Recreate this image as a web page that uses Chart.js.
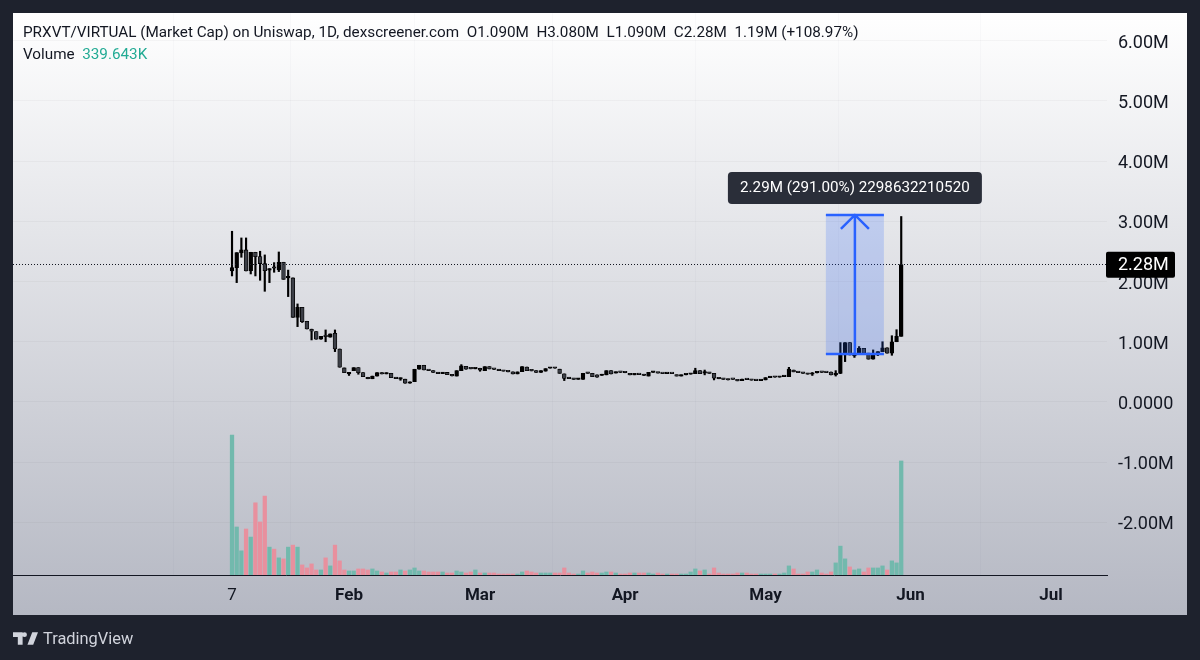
<!DOCTYPE html>
<html>
<head>
<meta charset="utf-8">
<title>PRXVT/VIRTUAL</title>
<script src="https://cdn.jsdelivr.net/npm/chart.js@4"></script>
<style>
  html, body { margin: 0; padding: 0; background: #1e222d; }
  #wrap { position: relative; width: 1200px; height: 660px; overflow: hidden; font-family: Roboto, sans-serif; }
  canvas { position: absolute; left: 0; top: 0; }
  .line { position: absolute; left: 23px; font-size: 15.25px; color: #131722; white-space: pre; }
  .green { color: #22ab94; }
  #brand { position: absolute; left: 13px; top: 629px; display: flex; align-items: center; color: #d1d4dc; font-size: 16.4px; }
  #brand svg { margin-right: 5px; }
</style>
</head>
<body>
<div id="wrap">
  <canvas id="myChart" width="1200" height="660"></canvas>
  <div class="line" style="top:23px">PRXVT/VIRTUAL (Market Cap) on Uniswap, 1D, dexscreener.com  O1.090M  H3.080M  L1.090M  C2.28M  1.19M (+108.97%)</div>
  <div class="line" style="top:45px">Volume  <span class="green">339.643K</span></div>
  <div id="brand">
    <svg width="25" height="13" viewBox="0 0 26 13"><path fill="#d1d4dc" d="M0 0h10v13H5V5H0zM12 0a2.5 2.5 0 1 1 0 5 2.500 2.500 0 0 1 0-5zM20 0h6l-5 13h-6z"/></svg>
    <span>TradingView</span>
  </div>
</div>
<script>
// day index 0 = Jan 7, values in millions
var opens = [
  2.176,2.231,2.475,2.525,2.181,2.486,2.414,2.298,2.19,2.225,
  2.192,2.32,2.06,2.06,1.406,1.572,1.34,1.207,1.168,1.041,
  1.09,1.075,1.14,.88,.565,.465,.52,.57,.487,.41,
  .385,.43,.487,.465,.476,.404,.38,.378,.31,.338,
  .543,.609,.53,.52,.49,.47,.49,.454,.43,.52,
  .592,.56,.55,.56,.52,.587,.55,.54,.52,.51,
  .50,.465,.505,.58,.53,.52,.49,.51,.56,.57,
  .544,.466,.405,.39,.375,.375,.49,.476,.45,.44,
  .45,.52,.48,.50,.49,.47,.45,.46,.46,.43,
  .49,.49,.475,.47,.475,.45,.43,.45,.46,.47,
  .52,.48,.49,.475,.40,.39,.38,.38,.365,.355,
  .38,.37,.365,.355,.366,.405,.42,.41,.42,.42,
  .53,.50,.488,.476,.46,.482,.50,.49,.498,.45,
  .476,.78,.986,.765,.81,.89,.81,.71,.78,.836,
  .90,.81,1.0,1.09
]
var closes = [
  2.231,2.48,2.525,2.176,2.486,2.414,2.298,2.181,2.215,2.22,
  2.32,2.037,2.065,1.406,1.572,1.334,1.212,1.174,1.041,1.09,
  1.085,1.13,.88,.576,.487,.49,.57,.487,.42,.385,
  .43,.487,.465,.487,.404,.387,.40,.31,.335,.543,
  .609,.532,.52,.49,.47,.49,.454,.432,.52,.598,
  .543,.55,.56,.53,.587,.548,.54,.52,.51,.50,
  .465,.50,.587,.52,.515,.49,.52,.554,.57,.56,
  .476,.39,.388,.375,.39,.476,.475,.42,.41,.46,
  .52,.465,.50,.49,.485,.45,.47,.455,.44,.49,
  .50,.48,.47,.475,.47,.43,.45,.46,.47,.52,
  .47,.50,.475,.394,.385,.375,.365,.375,.35,.38,
  .37,.36,.355,.366,.405,.42,.41,.42,.43,.545,
  .50,.488,.476,.46,.48,.504,.49,.486,.449,.46,
  .792,.986,.78,.81,.89,.81,.71,.78,.836,.90,
  .81,1.0,1.09,2.28
]
var highs = [
  2.835,2.48,2.724,2.724,2.486,2.486,2.503,2.442,2.215,2.314,
  2.491,2.32,2.19,2.06,1.628,1.572,1.34,1.21,1.168,1.09,
  1.196,1.13,1.196,.88,.565,.49,.57,.57,.487,.41,
  .43,.487,.487,.487,.476,.404,.40,.378,.335,.543,
  .609,.609,.53,.52,.49,.49,.49,.454,.52,.62,
  .592,.56,.56,.56,.587,.587,.55,.54,.52,.51,
  .50,.50,.587,.58,.53,.52,.52,.554,.57,.57,
  .544,.466,.405,.39,.39,.476,.49,.476,.45,.46,
  .52,.52,.50,.50,.49,.47,.47,.46,.46,.49,
  .50,.49,.475,.475,.475,.45,.45,.46,.47,.56,
  .52,.53,.49,.475,.40,.39,.38,.38,.365,.38,
  .38,.37,.365,.366,.405,.42,.42,.42,.43,.575,
  .53,.50,.488,.476,.49,.504,.50,.49,.498,.52,
  .986,.986,.986,.81,.92,.89,.81,.864,.836,1.0,
  .90,1.1,1.2,3.08
]
var lows = [
  2.093,1.982,2.403,2.176,2.126,2.093,2.021,1.838,1.982,2.154,
  2.165,2.037,1.75,1.406,1.251,1.32,1.212,1.03,1.041,1.041,
  1.0,1.075,.836,.576,.487,.44,.52,.46,.42,.385,
  .385,.43,.465,.465,.404,.387,.36,.31,.31,.338,
  .543,.532,.52,.49,.47,.47,.454,.432,.43,.52,
  .543,.55,.55,.51,.52,.548,.54,.52,.51,.50,
  .465,.465,.505,.52,.515,.49,.49,.51,.56,.56,
  .476,.355,.388,.375,.375,.375,.475,.42,.41,.44,
  .45,.465,.48,.49,.485,.45,.45,.455,.44,.43,
  .49,.48,.47,.47,.47,.43,.43,.45,.46,.47,
  .47,.45,.475,.366,.385,.375,.365,.375,.35,.355,
  .37,.36,.355,.355,.366,.405,.41,.41,.42,.42,
  .50,.488,.476,.46,.44,.482,.49,.486,.449,.43,
  .47,.67,.78,.74,.81,.81,.71,.71,.77,.836,
  .81,.775,1.0,1.09
]
// thousands
var volumes = [
  417,143,72,137,113,215,158,235,83,77,
  51,48,83,89,83,30,21,33,15,15,
  51,27,89,42,15,12,12,18,18,15,
  18,12,9,6,9,9,15,12,15,21,
  12,12,9,9,9,9,6,6,12,9,
  6,9,15,6,6,6,6,3,3,3,
  3,3,9,12,9,6,6,6,6,6,
  6,21,6,3,3,12,6,9,6,6,
  9,9,6,3,3,6,6,6,6,6,
  3,6,3,3,3,3,3,3,9,18,
  12,15,3,21,6,3,3,3,6,6,
  6,3,3,3,3,3,3,3,6,27,
  18,3,3,9,9,15,6,3,9,36,
  86,48,24,15,18,9,21,21,21,27,
  15,42,36,339.643
]
var yTickValues = [6,5,4,3,2,1,0,-1,-2]
var yTickLabels = ['6.00M','5.00M','4.00M','3.00M','2.00M','1.00M','0.0000','-1.00M','-2.00M']
var xTickValues = [0,25,53,84,114,145,175]
var xTickLabels = ['7','Feb','Mar','Apr','May','Jun','Jul']
var lastPrice = 2.28, lastPriceLabel = '2.28M'
var measureFrom = 126.9, measureTo = 139.3, measureLow = 0.797, measureHigh = 3.106
var measureLabel = '2.29M (291.00%) 2298632210520'

var UP = '#000000', DOWN = '#3c3f47'
var VOL_UP = '#72b9ad', VOL_DOWN = '#e8909e'
var BLUE = '#2962ff'

var wickData = [], bodyData = [], volData = []
for (var i = 0; i < opens.length; i++) {
  wickData.push({x:i, y:[lows[i], highs[i]]})
  bodyData.push({x:i, y:[opens[i], closes[i]]})
  volData.push({x:i, y:volumes[i]})
}

function isUp(ctx){ return closes[ctx.dataIndex] >= opens[ctx.dataIndex] }

var panelPlugin = {
  id: 'panel',
  beforeDraw: function(chart){
    var c = chart.ctx
    c.save()
    c.fillStyle = '#1e222d'
    c.fillRect(0, 0, chart.width, chart.height)
    var g = c.createLinearGradient(0, 13, 0, 615)
    g.addColorStop(0, '#ffffff')
    g.addColorStop(1, '#b5b8c3')
    c.fillStyle = g
    c.fillRect(13, 13, 1174, 602)
    c.restore()
  }
}

var overlayPlugin = {
  id: 'overlay',
  afterDraw: function(chart){
    var c = chart.ctx, x = chart.scales.x, y = chart.scales.y
    var area = chart.chartArea
    c.save()

    // last price line and tag
    var py = y.getPixelForValue(lastPrice)
    c.strokeStyle = '#131722'
    c.lineWidth = 1
    c.setLineDash([1, 2])
    c.beginPath()
    c.moveTo(area.left, Math.floor(py) + 0.5)
    c.lineTo(area.right, Math.floor(py) + 0.5)
    c.stroke()
    c.setLineDash([])
    c.fillStyle = '#000000'
    c.beginPath()
    c.roundRect(area.right - 1, py - 13, 69, 26, 2)
    c.fill()
    c.fillStyle = '#ffffff'
    c.font = '18px Roboto'
    c.textAlign = 'left'
    c.textBaseline = 'middle'
    c.fillText(lastPriceLabel, area.right + 11, py + 1)

    // measure tool
    var l = x.getPixelForValue(measureFrom), r = x.getPixelForValue(measureTo)
    var t = y.getPixelForValue(measureHigh), b = y.getPixelForValue(measureLow)
    var mid = (l + r) / 2
    c.fillStyle = 'rgba(41,98,255,0.2)'
    c.fillRect(l, t, r - l, b - t)
    c.strokeStyle = BLUE
    c.lineWidth = 2.5
    c.beginPath()
    c.moveTo(l, t); c.lineTo(r, t)
    c.moveTo(l, b); c.lineTo(r, b)
    c.moveTo(mid, b); c.lineTo(mid, t)
    c.moveTo(mid - 14, t + 14); c.lineTo(mid, t); c.lineTo(mid + 14, t + 14)
    c.stroke()

    // measure label
    c.fillStyle = '#2a2e39'
    c.beginPath()
    c.roundRect(mid - 127, t - 43, 254, 32, 4)
    c.fill()
    c.fillStyle = '#ffffff'
    c.font = '15.2px Roboto'
    c.textAlign = 'center'
    c.fillText(measureLabel, mid, t - 26.5)
    c.restore()
  }
}

function noPadding(s){
  s.paddingTop = 0; s.paddingBottom = 0; s.paddingLeft = 0; s.paddingRight = 0
}

var clusterChart = new Chart(document.getElementById('myChart'), {
  type: 'bar',
  data: {
    datasets: [
      {data: volData, yAxisID: 'vol', order: 3, barThickness: 3.6, grouped: false,
        backgroundColor: function(ctx){ return isUp(ctx) ? VOL_UP : VOL_DOWN }},
      {data: wickData, yAxisID: 'y', order: 2, barThickness: 1.5, grouped: false,
        backgroundColor: '#000000'},
      {data: bodyData, yAxisID: 'y', order: 1, barThickness: 3.8, grouped: false, minBarLength: 1.5,
        borderWidth: 0.8, borderSkipped: false, borderColor: '#000000',
        backgroundColor: function(ctx){ return isUp(ctx) ? UP : DOWN }}
    ]
  },
  options: {
    responsive: false,
    animation: false,
    layout: {padding: {left: 13, top: 13, right: 13, bottom: 45}},
    plugins: {legend: {display: false}, tooltip: {enabled: false}},
    scales: {
      x: {
        type: 'linear', offset: false, min: -46.8, max: 186.97,
        afterBuildTicks: function(s){ s.ticks = xTickValues.map(function(v){ return {value:v} }) },
        afterFit: function(s){ s.height = 40; noPadding(s) },
        grid: {color: 'rgba(19,23,34,0.02)', drawTicks: false},
        border: {color: '#131722', width: 1},
        ticks: {
          autoSkip: false, maxRotation: 0, padding: 11, color: '#131722',
          font: function(ctx){ return {family: 'Roboto', size: 17, weight: ctx.index == 0 ? 'normal' : 'bold'} },
          callback: function(v, idx){ return xTickLabels[idx] }
        }
      },
      y: {
        position: 'right', min: -2.874, max: 6.46,
        afterBuildTicks: function(s){ s.ticks = yTickValues.map(function(v){ return {value:v} }) },
        afterFit: function(s){ s.width = 80; noPadding(s) },
        grid: {color: 'rgba(19,23,34,0.035)', drawTicks: false},
        border: {display: false},
        ticks: {
          padding: 11, color: '#131722', font: {family: 'Roboto', size: 18, lineHeight: 0.28},
          // empty first line pushes the label down onto its grid line
          callback: function(v, idx){ return ['', yTickLabels[idx]] }
        }
      },
      vol: {display: false, min: 0, max: 1674}
    }
  },
  plugins: [panelPlugin, overlayPlugin]
})
</script>
</body>
</html>
